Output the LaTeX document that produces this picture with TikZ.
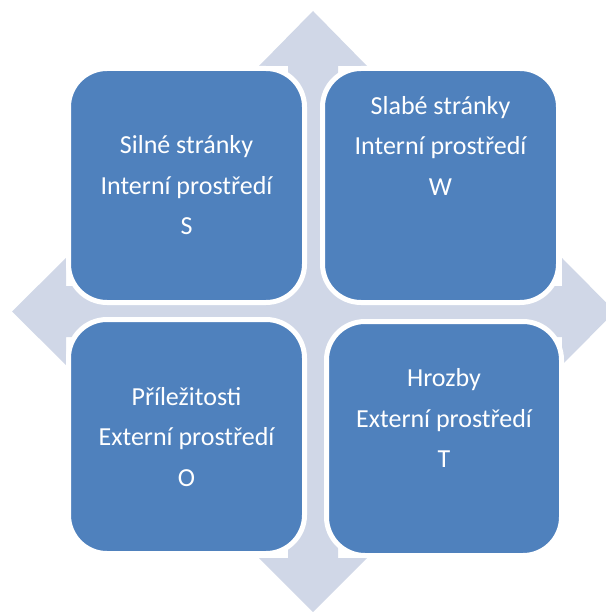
\documentclass[tikz,border=0pt]{standalone}
\usepackage{fontspec}
\setmainfont{Carlito}
\definecolor{quadblue}{HTML}{4F81BD}
\definecolor{crossgray}{HTML}{D0D7E7}
\tikzset{
  quad/.style={fill=quadblue, draw=white, line width=5pt, rounded corners=38.5pt},
  quadtext/.style={text=white, align=center, font=\fontsize{26}{40.5}\selectfont, inner sep=0pt},
}
\begin{document}
\begin{tikzpicture}[x=1pt, y=-1pt]
\useasboundingbox (0,0) rectangle (605,612);
% four-way arrow behind the quadrants
\fill[crossgray] (313,11) -- (367,66) -- (338,66) -- (338,286) -- (562,286) -- (562,258)
  -- (615,311.5) -- (562,365) -- (562,337) -- (338,337) -- (338,558) -- (367,558)
  -- (313,612) -- (259,558) -- (288,558) -- (288,337) -- (66,337) -- (66,365)
  -- (12,311.5) -- (66,258) -- (66,286) -- (288,286) -- (288,66) -- (259,66) -- cycle;
% quadrant boxes
\draw[quad] (68.5,68.5) rectangle (304.5,302.5);
\draw[quad] (322.5,68.5) rectangle (558.5,302.5);
\draw[quad] (68.5,319.5) rectangle (304.5,553.5);
\draw[quad] (326.5,321.5) rectangle (561.5,555.5);
\coordinate (s) at (186.5,185.5);
\coordinate (w) at (440.5,145.5);
\coordinate (o) at (186.5,437);
\coordinate (t) at (444,418);
\node[quadtext] (ts) at (s) {Silné stránky\\Interní prostředí\\S};
\node[quadtext] (tw) at (w) {Slabé stránky\\Interní prostředí\\W};
\node[quadtext] (to) at (o) {Příležitosti\\Externí prostředí\\O};
\node[quadtext] (tt) at (t) {Hrozby\\Externí prostředí\\T};
\end{tikzpicture}
\end{document}
